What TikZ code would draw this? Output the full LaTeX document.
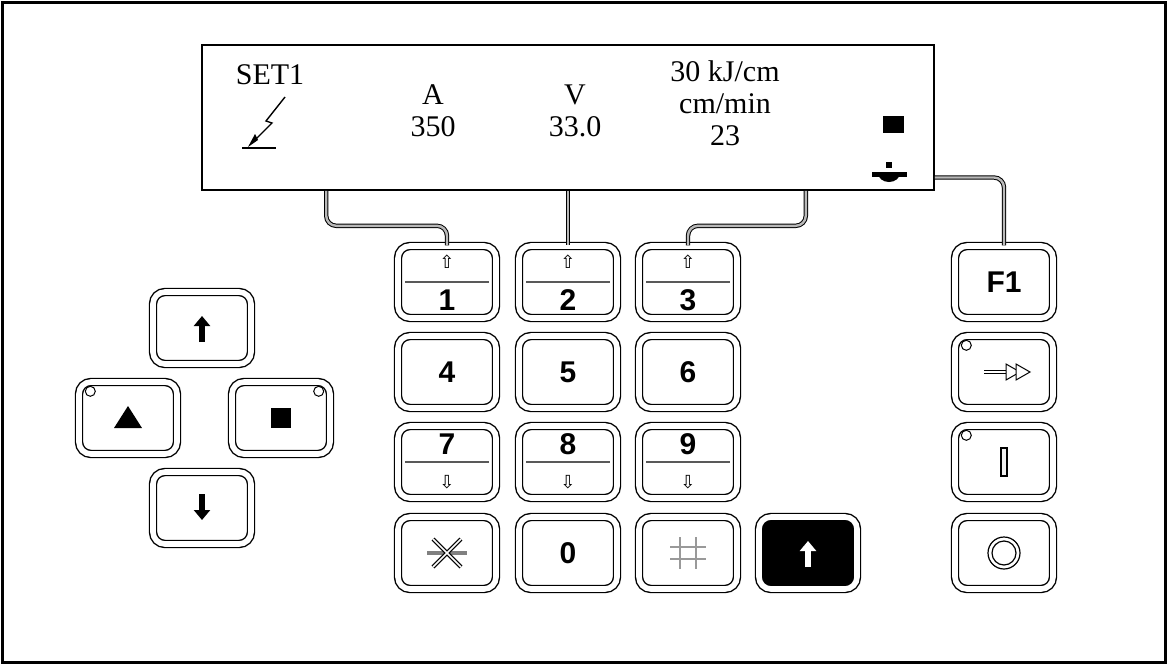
\documentclass[tikz,border=0pt]{standalone}
\usepackage{fontspec}
\setmainfont{Liberation Serif}
\setsansfont{Liberation Sans}
\newfontfamily\symfont{DejaVu Sans}
\usetikzlibrary{arrows.meta,positioning,calc}
\tikzset{
    keybox/.style={draw,line width=.7pt,double=white,double distance=2.8pt,rounded corners=6pt,
        minimum width=49pt,minimum height=36pt,inner sep=0pt,font=\sffamily\bfseries\fontsize{15}{15}\selectfont},
    darkkey/.style={keybox,fill=black},
    divider/.style={gray!70!black,line width=.6pt},
    wire/.style={draw=black,line width=.5pt,double=gray!55,double distance=1.2pt,rounded corners=5pt},
    led/.style={circle,draw,line width=.5pt,fill=white,minimum size=5pt,inner sep=0pt},
    disptext/.style={font=\fontsize{15}{16}\selectfont,align=center},
    thickarr/.style={-{Triangle[length=5pt,width=8pt]},line width=2.6pt},
    smallarr/.style={font=\symfont\fontsize{9}{9}\selectfont},
}
\begin{document}
\begin{tikzpicture}[x=0.5pt,y=-0.5pt]
    \useasboundingbox (0,0) rectangle (1167,664);
    \draw[line width=1.5pt] (2,2) rectangle (1165,662);

    % display
    \node[draw,line width=.8pt,minimum width=366pt,minimum height=72.5pt] (disp) at (568,117.5) {};
    \node[disptext] (set) at (270,75) {SET1};
    \node[disptext] (amp) at (433,111) {A\\350};
    \node[disptext] (volt) at (575,111) {V\\33.0};
    \node[disptext] (speed) at (725,103) {30 kJ/cm\\cm/min\\23};
    \draw[line width=.7pt] (285,97) -- (266,121) -- (272,123) -- (252,143);
    \fill (248,147) -- (255,134) -- (258,140) -- cycle;
    \draw[line width=.8pt] (242,148) -- (276,148);
    \fill (883,116) rectangle (904,133);
    \fill (872,172) rectangle (907,177);
    \fill (878,173) arc[start angle=180,end angle=0,x radius=11,y radius=9] -- cycle;
    \fill (886,162) rectangle (892,168);

    % numeric keys
    \foreach \n/\x in {1/447,2/568,3/688}{
        \node[keybox] (k\n) at (\x,282) {};
        \draw[divider] ([xshift=4pt]k\n.west) -- ([xshift=-4pt]k\n.east);
        \node[smallarr] at ([yshift=10pt]k\n.center) {⇧};
        \node[font=\sffamily\bfseries\fontsize{15}{15}\selectfont] at ([yshift=-9pt]k\n.center) {\n};
    }
    \foreach \n/\x in {4/447,5/568,6/688}
        \node[keybox] (k\n) at (\x,372) {\n};
    \foreach \n/\x in {7/447,8/568,9/688}{
        \node[keybox] (k\n) at (\x,462) {};
        \draw[divider] ([xshift=4pt]k\n.west) -- ([xshift=-4pt]k\n.east);
        \node[font=\sffamily\bfseries\fontsize{15}{15}\selectfont] at ([yshift=9pt]k\n.center) {\n};
        \node[smallarr] at ([yshift=-10pt]k\n.center) {⇩};
    }
    \node[keybox] (kstar) at (447,553) {};
    \node[keybox] (k0) at (568,553) {0};
    \node[keybox] (khash) at (688,553) {};
    \node[darkkey] (kshift) at (808,553) {};
    \draw[gray,line width=2pt] ([xshift=-10pt]kstar.center) -- ([xshift=10pt]kstar.center);
    \draw[line width=.6pt,double=white,double distance=.8pt]
        ([shift={(-7pt,7pt)}]kstar.center) -- ([shift={(7pt,-7pt)}]kstar.center)
        ([shift={(-7pt,-7pt)}]kstar.center) -- ([shift={(7pt,7pt)}]kstar.center);
    \draw[gray!80,line width=1.3pt]
        ([shift={(-4pt,8pt)}]khash.center) -- ([shift={(-4pt,-8pt)}]khash.center)
        ([shift={(4pt,8pt)}]khash.center) -- ([shift={(4pt,-8pt)}]khash.center)
        ([shift={(-9pt,3pt)}]khash.center) -- ([shift={(9pt,3pt)}]khash.center)
        ([shift={(-9pt,-3pt)}]khash.center) -- ([shift={(9pt,-3pt)}]khash.center);
    \draw[thickarr,white] ([yshift=-7pt]kshift.center) -- ([yshift=6pt]kshift.center);

    % function keys
    \node[keybox] (f1) at (1004,282) {F1};
    \node[keybox] (frun) at (1004,372) {};
    \node[keybox] (fon) at (1004,462) {};
    \node[keybox] (foff) at (1004,553) {};
    \node[led] at ([shift={(6pt,-5pt)}]frun.north west) {};
    \node[led] at ([shift={(6pt,-5pt)}]fon.north west) {};
    \draw[line width=.5pt,double=white,double distance=1.4pt] ([xshift=-10pt]frun.center) -- ([xshift=2pt]frun.center);
    \draw[line width=.5pt,fill=white] ([shift={(1pt,4pt)}]frun.center) -- ([shift={(8pt,0pt)}]frun.center) -- ([shift={(1pt,-4pt)}]frun.center) -- cycle;
    \draw[line width=.5pt,fill=white] ([shift={(6pt,4pt)}]frun.center) -- ([shift={(13pt,0pt)}]frun.center) -- ([shift={(6pt,-4pt)}]frun.center) -- cycle;
    \draw[line width=.6pt,fill=gray!10] ([shift={(-1.5pt,-7pt)}]fon.center) rectangle ([shift={(1.5pt,7pt)}]fon.center);
    \draw[line width=.6pt] (foff.center) circle[radius=8pt] (foff.center) circle[radius=6pt];

    % cursor keys
    \node[keybox] (up) at (202,328) {};
    \node[keybox] (left) at (128,418) {};
    \node[keybox] (right) at (281,418) {};
    \node[keybox] (down) at (202,508) {};
    \node[led] at ([shift={(6pt,-5pt)}]left.north west) {};
    \node[led] at ([shift={(-6pt,-5pt)}]right.north east) {};
    \draw[thickarr] ([yshift=-7pt]up.center) -- ([yshift=6pt]up.center);
    \draw[thickarr] ([yshift=7pt]down.center) -- ([yshift=-6pt]down.center);
    \fill ([shift={(-7pt,-5pt)}]left.center) -- ([shift={(7pt,-5pt)}]left.center) -- ([yshift=6pt]left.center) -- cycle;
    \fill ([shift={(-5pt,-5pt)}]right.center) rectangle ([shift={(5pt,5pt)}]right.center);

    % wires from display to keys
    \draw[wire] ([xshift=62.5pt]disp.south west) -- ++(0,35) -| (k1.north);
    \draw[wire] (disp.south) -- (k2.north);
    \draw[wire] ([xshift=-64.5pt]disp.south east) -- ++(0,35) -| (k3.north);
    \draw[wire] ([yshift=-30pt]disp.east) -| (f1.north);
\end{tikzpicture}
\end{document}
